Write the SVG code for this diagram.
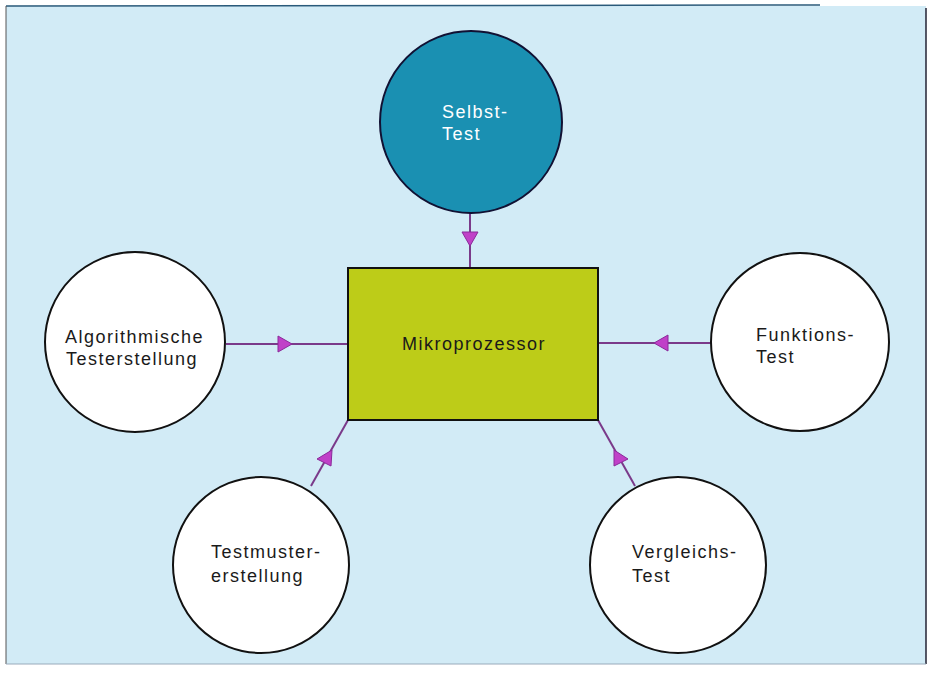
<svg xmlns="http://www.w3.org/2000/svg" width="936" height="684" viewBox="0 0 936 684">
<style>
.circ{fill:#ffffff;stroke:#111;stroke-width:2}
.lbl{font-family:"Liberation Sans",Arial,sans-serif;font-size:18px;letter-spacing:1.5px;fill:#1a1a1a}
.wt{fill:#ffffff}
.conn{stroke:#7a3a8a;stroke-width:2;fill:none}
.ah{fill:#c040c8;stroke:#8a2a9a;stroke-width:1}
</style>
<rect x="0" y="0" width="936" height="684" fill="#ffffff"/>
<rect x="6" y="6" width="920" height="658" fill="#d2ebf6"/>
<line x1="6" y1="6" x2="820" y2="5" stroke="#2a5a7a" stroke-width="1.5"/>
<line x1="6" y1="6" x2="6" y2="664" stroke="#555" stroke-width="1"/>
<line x1="926" y1="8" x2="926" y2="664" stroke="#223" stroke-width="1.5"/>
<line x1="6" y1="664" x2="926" y2="664" stroke="#9ab" stroke-width="1"/>
<g id="connectors">
<line class="conn" x1="470" y1="213" x2="470" y2="268"/>
<polygon class="ah" points="462,232 478,232 470,246"/>
<line class="conn" x1="226" y1="344" x2="348" y2="344"/>
<polygon class="ah" points="278,336 278,352 292,344"/>
<line class="conn" x1="598" y1="343" x2="711" y2="343"/>
<polygon class="ah" points="668,335 668,351 654,343"/>
<line class="conn" x1="348" y1="420" x2="311" y2="486"/>
<polygon class="ah" points="317,459 331,466 332,450"/>
<line class="conn" x1="598" y1="420" x2="635" y2="486"/>
<polygon class="ah" points="614,466 628,459 614,450"/>
</g>
<g id="selbst">
<circle cx="471" cy="122" r="91" fill="#1a90b2" stroke="#113" stroke-width="2"/>
<text class="lbl wt" x="442" y="118">Selbst-</text>
<text class="lbl wt" x="442" y="140">Test</text>
</g>
<g id="mikro">
<rect x="348" y="268" width="250" height="152" fill="#bdcc18" stroke="#111" stroke-width="2"/>
<text class="lbl" x="402" y="350">Mikroprozessor</text>
</g>
<g id="algo">
<circle class="circ" cx="135" cy="342" r="90"/>
<text class="lbl" x="65" y="343">Algorithmische</text>
<text class="lbl" x="66" y="365">Testerstellung</text>
</g>
<g id="funk">
<circle class="circ" cx="800" cy="342" r="89"/>
<text class="lbl" x="756" y="341">Funktions-</text>
<text class="lbl" x="756" y="363">Test</text>
</g>
<g id="testmuster">
<circle class="circ" cx="261" cy="565" r="88"/>
<text class="lbl" x="211" y="558">Testmuster-</text>
<text class="lbl" x="211" y="582">erstellung</text>
</g>
<g id="vergleichs">
<circle class="circ" cx="678" cy="565" r="88"/>
<text class="lbl" x="632" y="558">Vergleichs-</text>
<text class="lbl" x="632" y="582">Test</text>
</g>
</svg>
